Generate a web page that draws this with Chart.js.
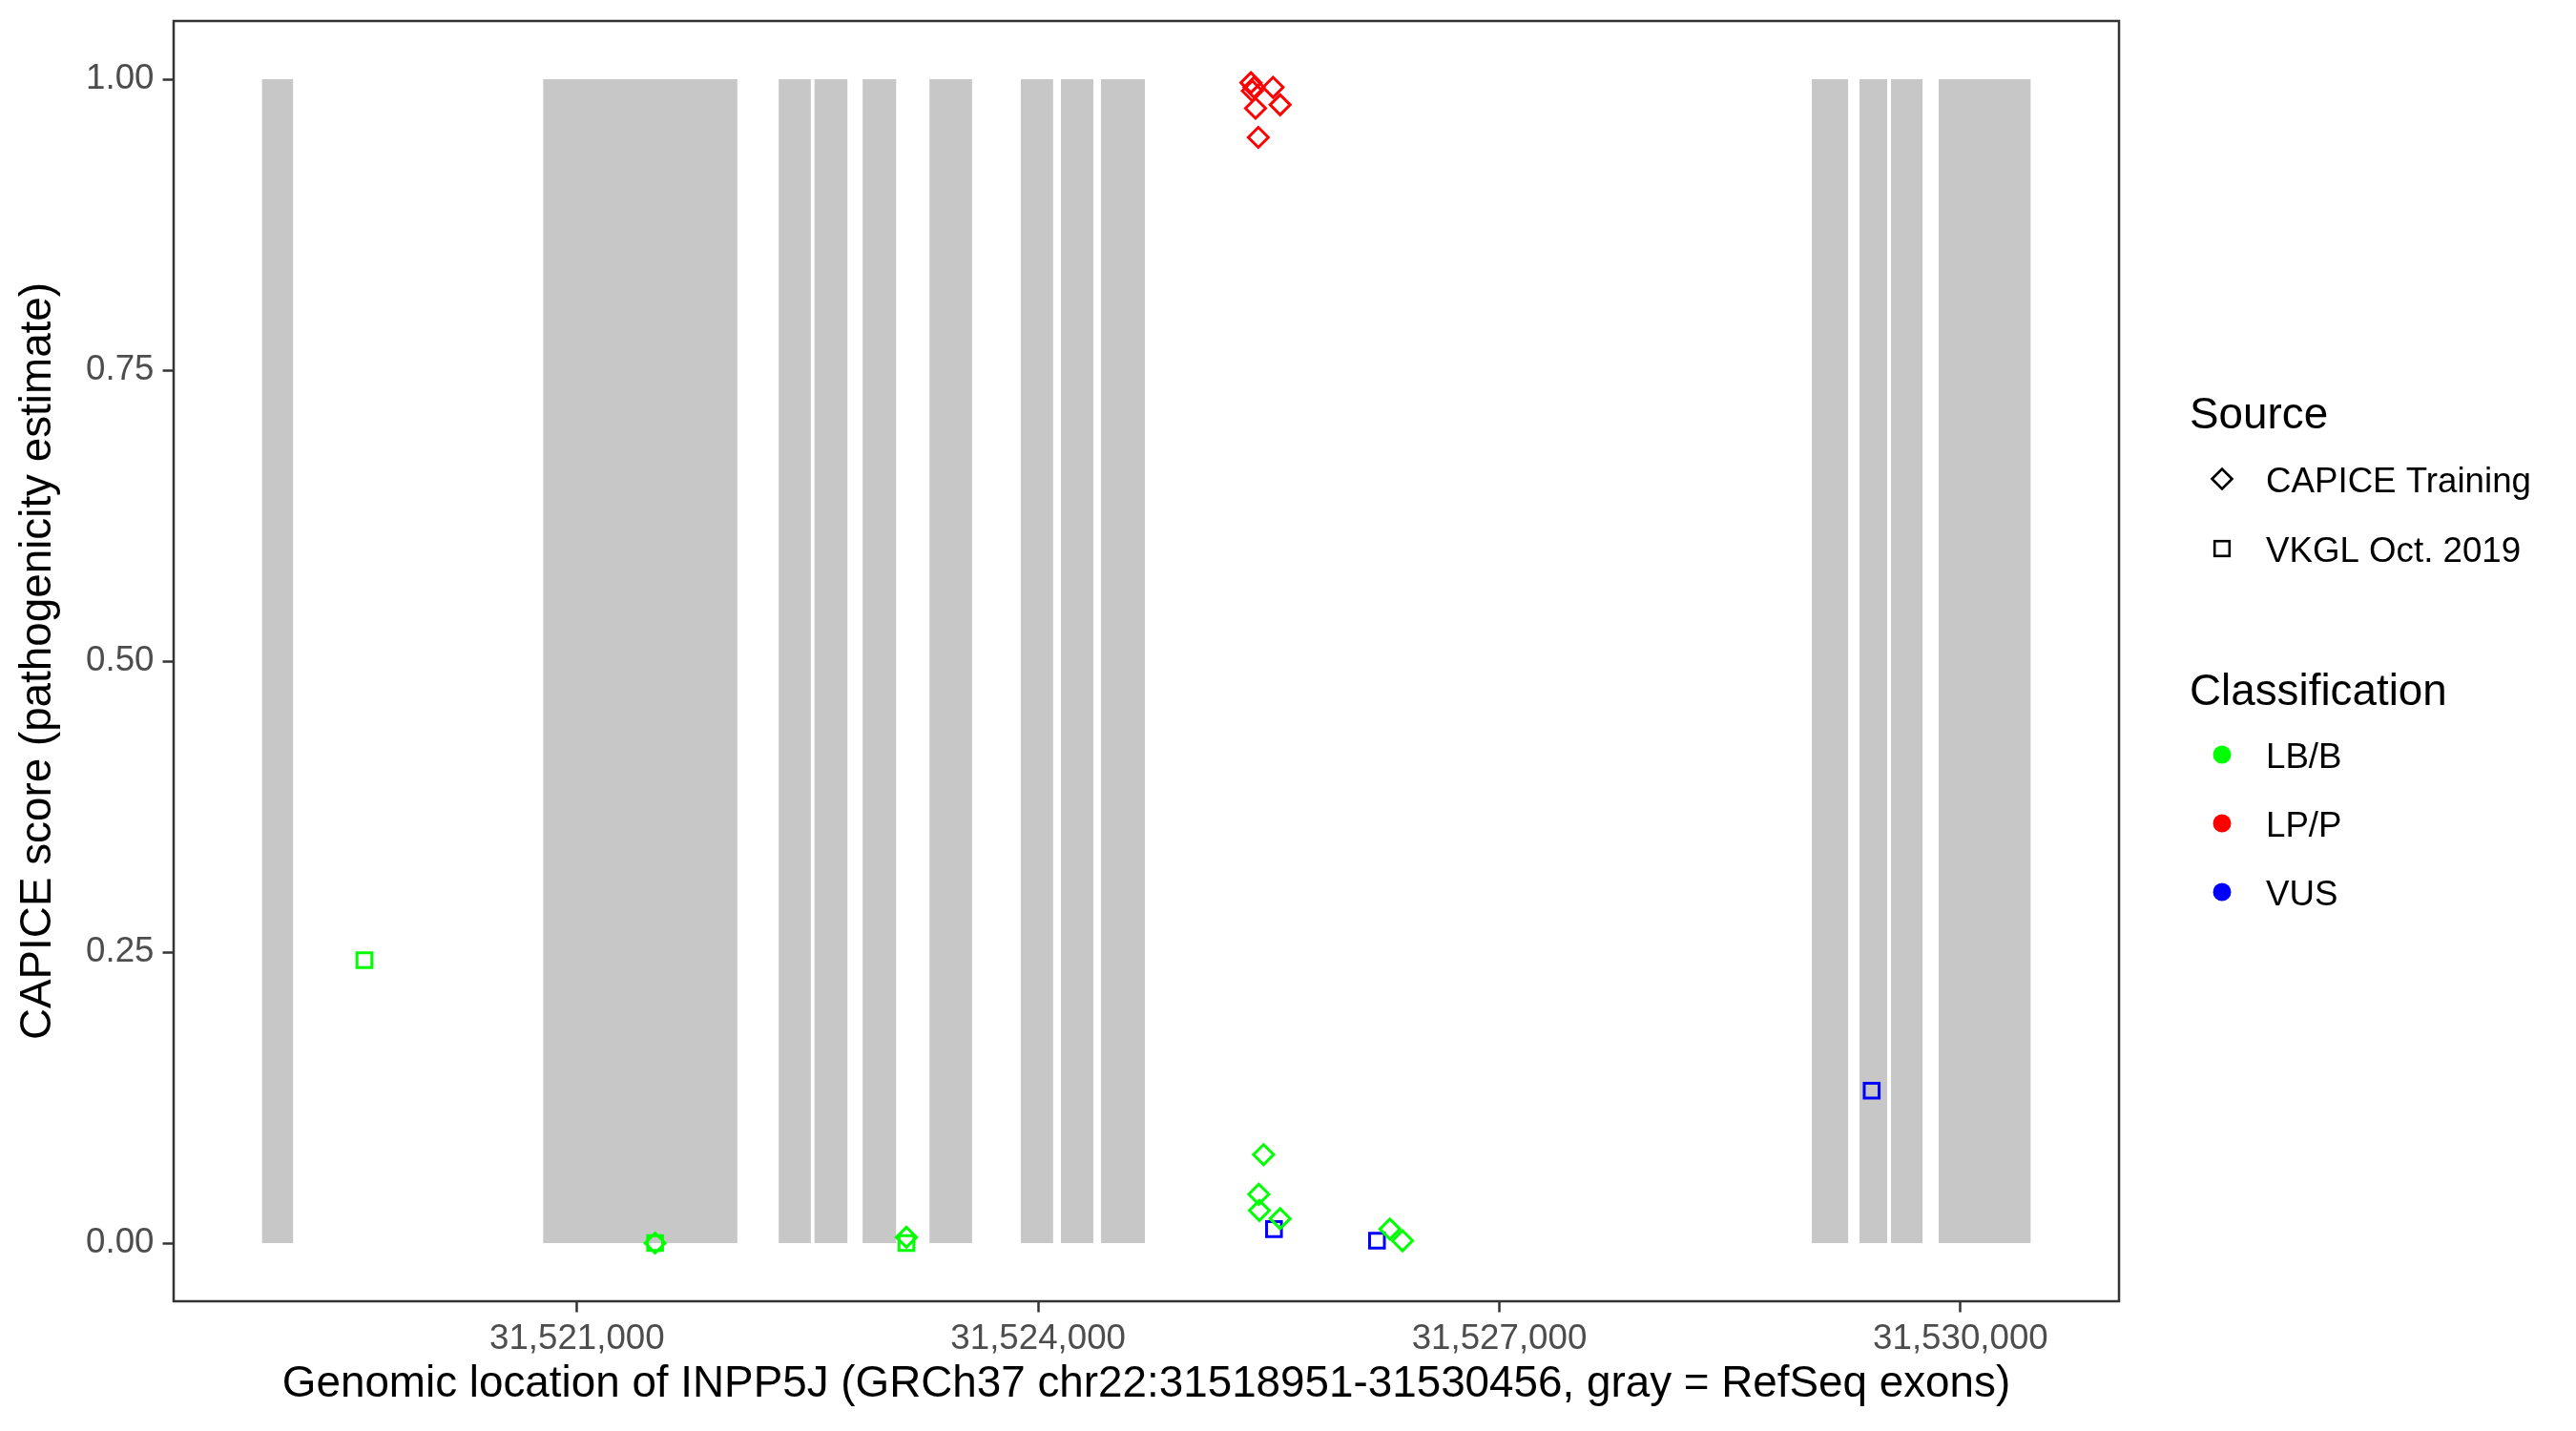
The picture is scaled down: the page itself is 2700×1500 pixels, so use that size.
<!DOCTYPE html>
<html>
<head>
<meta charset="utf-8">
<script src="https://cdn.jsdelivr.net/npm/chart.js@4.4.1/dist/chart.umd.min.js"></script>
<style>
  html, body { margin: 0; padding: 0; background: #fff; }
  canvas { display: block; }
</style>
</head>
<body>
<canvas id="capiceChart" width="2700" height="1500" style="width:2700px;height:1500px"></canvas>
<script>
// RefSeq exons of INPP5J (GRCh37 chr22)
const exonStarts = [31518951, 31520780, 31522312, 31522545, 31522858, 31523293, 31523887, 31524148, 31524409, 31529033, 31529343, 31529548, 31529858];
const exonEnds   = [31519153, 31522043, 31522521, 31522759, 31523076, 31523570, 31524097, 31524359, 31524694, 31529269, 31529523, 31529753, 31530456];

const xTicks = [31521000, 31524000, 31527000, 31530000];
const yTicks = [0, 0.25, 0.5, 0.75, 1];

// CAPICE training variants
const lbbTrainingPos   = [31521508, 31523143, 31525466, 31525435, 31525439, 31525574, 31526288, 31526370];
const lbbTrainingScore = [0.000, 0.005, 0.076, 0.042, 0.028, 0.021, 0.012, 0.002];
const lppTrainingPos   = [31525384, 31525404, 31525393, 31525528, 31525414, 31525574, 31525432];
const lppTrainingScore = [0.997, 0.993, 0.990, 0.993, 0.975, 0.978, 0.950];

// VKGL Oct. 2019 variants
const lbbVkglPos   = [31519617, 31521508, 31523143];
const lbbVkglScore = [0.243, 0.000, 0.000];
const vusVkglPos   = [31525534, 31526204, 31529422];
const vusVkglScore = [0.012, 0.002, 0.131];

const sourceLabels = ["CAPICE Training", "VKGL Oct. 2019"];
const classLabels = ["LB/B", "LP/P", "VUS"];
const classColors = ["#00FF00", "#FF0000", "#0000FF"];

const FONT = "'Liberation Sans', Arial, sans-serif";
Chart.defaults.font.family = FONT;

function points(xs, ys) {
  return xs.map((x, i) => ({ x: x, y: ys[i] }));
}

function pointSet(label, xs, ys, color, diamond) {
  return {
    label: label,
    data: points(xs, ys),
    pointStyle: diamond ? "rectRot" : "rect",
    pointRadius: diamond ? 10.5 : 11,
    pointBorderWidth: 3,
    pointBackgroundColor: "rgba(0,0,0,0)",
    pointBorderColor: color,
    showLine: false,
  };
}

const ctx = document.getElementById("capiceChart").getContext("2d");

new Chart(ctx, {
  type: "scatter",
  data: {
    datasets: [
      pointSet("LB/B training", lbbTrainingPos, lbbTrainingScore, classColors[0], true),
      pointSet("LB/B VKGL", lbbVkglPos, lbbVkglScore, classColors[0], false),
      pointSet("LP/P training", lppTrainingPos, lppTrainingScore, classColors[1], true),
      pointSet("VUS VKGL", vusVkglPos, vusVkglScore, classColors[2], false),
    ],
  },
  options: {
    responsive: false,
    animation: false,
    events: [],
    layout: { padding: { top: 22, right: 479, bottom: 0, left: 0 } },
    plugins: {
      legend: { display: false },
      tooltip: { enabled: false },
    },
    scales: {
      x: {
        type: "linear",
        min: 31518376,
        max: 31531031,
        afterBuildTicks(scale) {
          scale.ticks = xTicks.map((v) => ({ value: v }));
        },
        afterFit(scale) {
          scale.height = 136;
          scale.paddingLeft = 0;
          scale.paddingRight = 0;
        },
        ticks: {
          autoSkip: false,
          maxRotation: 0,
          padding: 6.5,
          color: "#4D4D4D",
          font: { size: 36.7 },
          callback: (v) => v.toLocaleString("en-US"),
        },
        grid: {
          drawOnChartArea: false,
          tickLength: 11.5,
          tickWidth: 2.5,
          tickColor: "#333333",
        },
        border: { display: false },
        title: {
          display: true,
          text: "Genomic location of INPP5J (GRCh37 chr22:31518951-31530456, gray = RefSeq exons)",
          color: "#000000",
          font: { size: 45.8 },
          padding: { top: 0, bottom: 21.5 },
        },
      },
      y: {
        type: "linear",
        min: -0.05,
        max: 1.05,
        afterBuildTicks(scale) {
          scale.ticks = yTicks.map((v) => ({ value: v }));
        },
        afterFit(scale) {
          scale.width = 182;
          scale.paddingTop = 0;
          scale.paddingBottom = 0;
        },
        ticks: {
          padding: 9,
          color: "#4D4D4D",
          font: { size: 36.7 },
          callback: (v) => v.toFixed(2),
        },
        grid: {
          drawOnChartArea: false,
          tickLength: 11.5,
          tickWidth: 2.5,
          tickColor: "#333333",
        },
        border: { display: false },
        title: {
          display: true,
          text: "CAPICE score (pathogenicity estimate)",
          color: "#000000",
          font: { size: 45.8 },
          padding: { top: 12.5, bottom: 0 },
        },
      },
    },
  },
  plugins: [
    {
      id: "exons",
      beforeDatasetsDraw(chart) {
        const { ctx, scales: { x, y } } = chart;
        const yTop = y.getPixelForValue(1);
        const yBot = y.getPixelForValue(0);
        ctx.save();
        ctx.fillStyle = "#C7C7C7";
        exonStarts.forEach((s, i) => {
          const x0 = x.getPixelForValue(s);
          const x1 = x.getPixelForValue(exonEnds[i]);
          ctx.fillRect(x0, yTop, x1 - x0, yBot - yTop);
        });
        ctx.restore();
      },
    },
    {
      id: "panelAndLegend",
      afterDraw(chart) {
        const { ctx, chartArea: { left, top, right, bottom } } = chart;
        ctx.save();
        ctx.strokeStyle = "#333333";
        ctx.lineWidth = 2.5;
        ctx.strokeRect(left, top, right - left, bottom - top);

        // legend
        const keyX = 2329;
        const textX = 2375;
        ctx.fillStyle = "#000000";
        ctx.textAlign = "left";
        ctx.textBaseline = "alphabetic";
        ctx.font = "45.8px " + FONT;
        ctx.fillText("Source", 2295, 449);
        ctx.fillText("Classification", 2295, 739);

        ctx.font = "36.7px " + FONT;
        const sourceY = [502, 575];
        sourceLabels.forEach((lab, i) => {
          ctx.fillText(lab, textX, sourceY[i] + 14);
        });
        ctx.strokeStyle = "#000000";
        ctx.lineWidth = 2.6;
        // diamond key
        ctx.beginPath();
        ctx.moveTo(keyX - 10.5, sourceY[0]);
        ctx.lineTo(keyX, sourceY[0] - 10.5);
        ctx.lineTo(keyX + 10.5, sourceY[0]);
        ctx.lineTo(keyX, sourceY[0] + 10.5);
        ctx.closePath();
        ctx.stroke();
        // square key
        ctx.strokeRect(keyX - 7.8, sourceY[1] - 7.8, 15.6, 15.6);

        const classY = [791, 863, 935];
        classLabels.forEach((lab, i) => {
          ctx.fillStyle = classColors[i];
          ctx.beginPath();
          ctx.arc(keyX, classY[i], 9.5, 0, Math.PI * 2);
          ctx.fill();
          ctx.fillStyle = "#000000";
          ctx.fillText(lab, textX, classY[i] + 14);
        });
        ctx.restore();
      },
    },
  ],
});
</script>
</body>
</html>
